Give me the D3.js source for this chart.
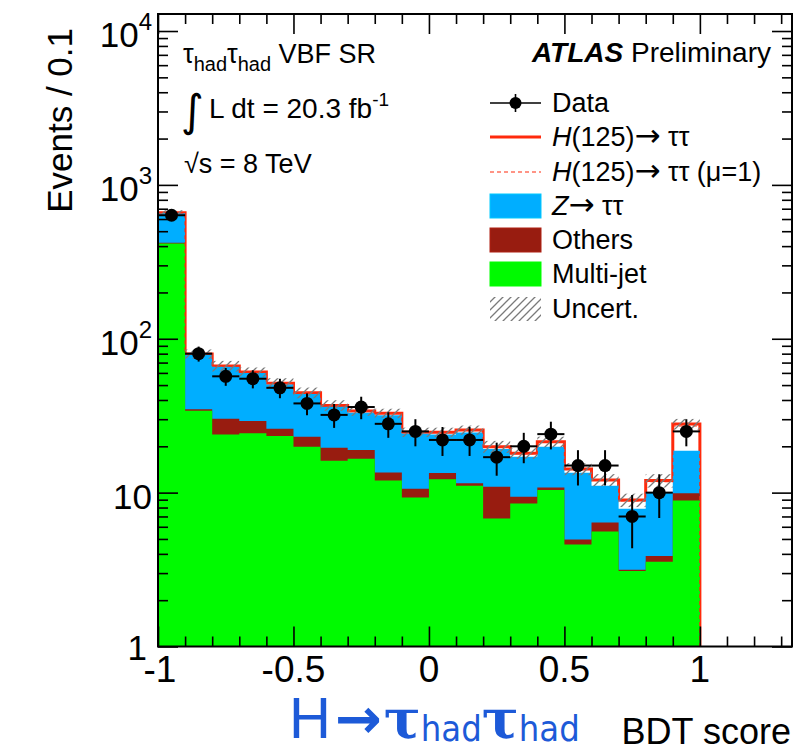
<!DOCTYPE html>
<html>
<head>
<meta charset="utf-8">
<script src="https://cdn.jsdelivr.net/npm/d3@7"></script>
<style>
  body { margin: 0; background: #ffffff; }
  svg { display: block; font-family: 'Liberation Sans', Arial, Helvetica, sans-serif; }
</style>
</head>
<body>
<svg id="chart" width="810" height="752"></svg>
<script>

// BDT score bins (lower edges), width 0.1
const bins = [-1.0, -0.9, -0.8, -0.7, -0.6, -0.5, -0.4, -0.3, -0.2, -0.1,
              0.0, 0.1, 0.2, 0.3, 0.4, 0.5, 0.6, 0.7, 0.8, 0.9];
const binWidth = 0.1;

// stacked backgrounds
const multijet = [416, 34, 23.9, 24.3, 23.3, 19.9, 16.1, 16.6, 12.0, 9.3,
                  12.2, 11.1, 6.8, 8.5, 10.4, 4.6, 5.6, 3.1, 3.55, 8.9];
const others   = [5, 0.8, 6.3, 4.9, 2.7, 3.2, 3.5, 2.3, 1.5, 1.3,
                  1.2, 0.4, 4.1, 0.9, 0.4, 0.35, 0.8, 0.05, 0.33, 1.0];
const ztautau  = [234, 44.0, 35.5, 30.8, 24.5, 20.7, 16.5, 14.1, 18.3, 13.5,
                  10.5, 13.1, 8.3, 7.7, 9.1, 8.5, 4.7, 4.7, 6.2, 8.8];
// signal (fitted) and signal at mu=1
const higgs    = [3, 0.8, 0.8, 0.8, 0.8, 0.8, 0.8, 0.9, 1.0, 0.6,
                  0.8, 0.9, 0.7, 0.9, 1.5, 0.8, 1.0, 1.1, 1.9, 9.2];
const higgsMu1 = [2.6, 0.7, 0.7, 0.7, 0.7, 0.7, 0.7, 0.8, 0.9, 0.5,
                  0.7, 0.8, 0.6, 0.8, 1.3, 0.7, 0.9, 1.0, 1.7, 8.4];
// relative uncertainty on the total
const uncert   = [0.04, 0.07, 0.08, 0.07, 0.08, 0.08, 0.08, 0.07, 0.07, 0.07,
                  0.07, 0.07, 0.09, 0.08, 0.08, 0.09, 0.09, 0.10, 0.10, 0.08];
const data     = [635, 80, 57, 55, 48, 38, 32, 36, 28, 25,
                  22, 22, 17, 20, 24, 15, 15, 7, 10, 25];

const xMajorTicks = [-1, -0.5, 0, 0.5, 1];
const xTickLabels = ['-1', '-0.5', '0', '0.5', '1'];
const yMajorTicks = [1, 10, 100, 1000, 10000];
const yTickExp    = ['', '', '2', '3', '4'];

const colors = {
  ztt: '#00aeff',
  others: '#981c10',
  multijet: '#00fa00',
  signal: '#ff2a0c',
  hatch: '#7a7a7a'
};

const plotLeft = 158, plotRight = 792, plotTop = 14, plotBottom = 646.5;
const yMin = 1, yMax = 12900;

const x = d3.scaleLinear().domain([-1, 1.34]).range([plotLeft, plotRight]);
const y = d3.scaleLog().domain([yMin, yMax]).range([plotBottom, plotTop]);

const svg = d3.select('#chart');
const defs = svg.append('defs');

defs.append('clipPath').attr('id', 'plotclip')
  .append('rect')
    .attr('x', plotLeft).attr('y', plotTop)
    .attr('width', plotRight - plotLeft).attr('height', plotBottom - plotTop);

const hatch = defs.append('pattern')
    .attr('id', 'hatch')
    .attr('patternUnits', 'userSpaceOnUse')
    .attr('width', 8).attr('height', 8);
hatch.append('path')
    .attr('d', 'M-2,2 l4,-4 M0,8 l8,-8 M6,10 l4,-4')
    .attr('stroke', colors.hatch)
    .attr('stroke-width', 1.3);

// cumulative stack
const sumOth = multijet.map((v, i) => v + others[i]);
const sumZ = sumOth.map((v, i) => v + ztautau[i]);
const sumH = sumZ.map((v, i) => v + higgs[i]);
const sumH1 = sumZ.map((v, i) => v + higgsMu1[i]);

const lastEdge = bins[bins.length - 1] + binWidth;

function stepPoints(values) {
  const pts = [[bins[0], yMin]];
  values.forEach((v, i) => pts.push([bins[i], v]));
  pts.push([lastEdge, values[values.length - 1]]);
  pts.push([lastEdge, yMin]);
  return pts;
}

const stepLine = d3.line()
    .x(d => x(d[0]))
    .y(d => y(d[1]))
    .curve(d3.curveStepAfter);

const stepArea = d3.area()
    .x(d => x(d[0]))
    .y0(y(yMin))
    .y1(d => y(d[1]))
    .curve(d3.curveStepAfter);

const plot = svg.append('g')
    .attr('class', 'plot')
    .attr('clip-path', 'url(#plotclip)');

// top of the stack (signal), drawn first like a ROOT stack
plot.append('path')
    .attr('class', 'signal-line')
    .attr('d', stepLine(stepPoints(sumH)))
    .attr('fill', '#ffffff')
    .attr('stroke', colors.signal)
    .attr('stroke-width', 3);

// background layers
[[sumZ, colors.ztt], [sumOth, colors.others], [multijet, colors.multijet]]
  .forEach(([vals, col]) => {
    plot.append('path')
        .attr('d', stepArea(stepPoints(vals)))
        .attr('fill', col)
        .attr('stroke', 'none');
  });

// signal mu=1, dashed
plot.append('path')
    .attr('class', 'signal-mu1')
    .attr('d', stepLine(stepPoints(sumH1)))
    .attr('fill', 'none')
    .attr('stroke', colors.signal)
    .attr('stroke-width', 1.2)
    .attr('stroke-dasharray', '4,3');

// uncertainty band
plot.append('g')
    .attr('class', 'uncert')
  .selectAll('rect')
  .data(bins)
  .enter().append('rect')
    .attr('x', d => x(d))
    .attr('width', d => x(d + binWidth) - x(d))
    .attr('y', (d, i) => y(sumH[i] * (1 + uncert[i])))
    .attr('height', (d, i) => y(sumH[i] * (1 - uncert[i])) - y(sumH[i] * (1 + uncert[i])))
    .attr('fill', 'url(#hatch)');

// data points
const pts = plot.append('g')
    .attr('class', 'data')
  .selectAll('g')
  .data(bins)
  .enter().append('g');
pts.append('line')
    .attr('x1', d => x(d))
    .attr('x2', d => x(d + binWidth))
    .attr('y1', (d, i) => y(data[i]))
    .attr('y2', (d, i) => y(data[i]))
    .attr('stroke', '#000').attr('stroke-width', 2);
pts.append('line')
    .attr('x1', d => x(d + binWidth / 2))
    .attr('x2', d => x(d + binWidth / 2))
    .attr('y1', (d, i) => y(data[i] + Math.sqrt(data[i])))
    .attr('y2', (d, i) => y(data[i] - Math.sqrt(data[i])))
    .attr('stroke', '#000').attr('stroke-width', 2);
pts.append('circle')
    .attr('cx', d => x(d + binWidth / 2))
    .attr('cy', (d, i) => y(data[i]))
    .attr('r', 6.5)
    .attr('fill', '#000');

// axes (ticks point inwards, ROOT style)
const xMinorTicks = d3.range(-0.9, 1.34, 0.1)
    .map(v => Math.round(v * 10) / 10)
    .filter(v => !xMajorTicks.includes(v));
const yMinorTicks = [];
yMajorTicks.slice(0, -1).forEach(dec => {
  for (let k = 2; k <= 9; k++) yMinorTicks.push(dec * k);
});

const axes = svg.append('g').attr('class', 'axes');

function tickAxis(axisFn, scale, values, size, transform) {
  const g = axes.append('g')
      .attr('transform', transform)
      .call(axisFn(scale).tickValues(values.filter(v => v <= scale.domain()[1])).tickSize(size).tickFormat(''));
  g.select('.domain').remove();
  g.selectAll('.tick line').attr('stroke', '#000').attr('stroke-width', 1.6);
  return g;
}

tickAxis(d3.axisBottom, x, xMajorTicks, -20, `translate(0,${plotBottom})`);
tickAxis(d3.axisBottom, x, xMinorTicks, -10, `translate(0,${plotBottom})`);
tickAxis(d3.axisTop, x, xMajorTicks, -20, `translate(0,${plotTop})`);
tickAxis(d3.axisTop, x, xMinorTicks, -10, `translate(0,${plotTop})`);
tickAxis(d3.axisLeft, y, yMajorTicks, -20, `translate(${plotLeft},0)`);
tickAxis(d3.axisLeft, y, yMinorTicks, -10, `translate(${plotLeft},0)`);
tickAxis(d3.axisRight, y, yMajorTicks, -20, `translate(${plotRight},0)`);
tickAxis(d3.axisRight, y, yMinorTicks, -10, `translate(${plotRight},0)`);

axes.append('rect')
    .attr('x', plotLeft).attr('y', plotTop)
    .attr('width', plotRight - plotLeft).attr('height', plotBottom - plotTop)
    .attr('fill', 'none')
    .attr('stroke', '#000')
    .attr('stroke-width', 2);

// tick labels
axes.append('g').selectAll('text')
  .data(xMajorTicks)
  .enter().append('text')
    .attr('x', d => x(d) + (d === -1 ? 2 : 0))
    .attr('y', 682)
    .attr('text-anchor', 'middle')
    .attr('font-size', 37)
    .text((d, i) => xTickLabels[i]);

const yLab = axes.append('g').selectAll('text')
  .data(yMajorTicks)
  .enter().append('text')
    .attr('x', d => d === 1 ? 147 : 152)
    .attr('y', d => y(d) + (d === 1 ? 13 : 16))
    .attr('text-anchor', 'end')
    .attr('font-size', 35);
yLab.append('tspan').text(d => d === 1 ? '1' : '10');
yLab.append('tspan')
    .attr('font-size', 24)
    .attr('dy', -17)
    .text((d, i) => yTickExp[i]);

// axis titles
svg.append('text')
    .attr('transform', 'translate(72,28) rotate(-90)')
    .attr('text-anchor', 'end')
    .attr('font-size', 35)
    .text('Events / 0.1');

svg.append('text')
    .attr('x', 791)
    .attr('y', 744)
    .attr('text-anchor', 'end')
    .attr('font-size', 36)
    .text('BDT score');

// blue channel label
const chan = svg.append('text')
    .attr('x', 289)
    .attr('y', 738)
    .attr('fill', '#1d5ad8');
chan.append('tspan').attr('font-size', 58).text('H');
chan.append('tspan').attr('font-size', 56).attr('font-family', 'DejaVu Sans')
    .attr('font-weight', 'bold').attr('dx', 4).text('→');
chan.append('tspan').attr('font-size', 55).attr('font-family', 'DejaVu Serif')
    .attr('font-weight', 'bold').attr('dx', 2).text('τ');
chan.append('tspan').attr('font-size', 36).attr('font-family', 'DejaVu Sans Condensed, DejaVu Sans')
    .attr('dy', 3).text('had');
chan.append('tspan').attr('font-size', 55).attr('font-family', 'DejaVu Serif')
    .attr('font-weight', 'bold').attr('dy', -3).text('τ');
chan.append('tspan').attr('font-size', 36).attr('font-family', 'DejaVu Sans Condensed, DejaVu Sans')
    .attr('dy', 3).text('had');

// info text
const info = svg.append('g').attr('font-size', 27);
const t1 = info.append('text').attr('x', 183).attr('y', 63);
t1.append('tspan').text('τ');
t1.append('tspan').attr('font-size', 20).attr('dy', 8).text('had');
t1.append('tspan').attr('dy', -8).text('τ');
t1.append('tspan').attr('font-size', 20).attr('dy', 8).text('had');
t1.append('tspan').attr('dy', -8).text(' VBF SR');

const t2 = info.append('text').attr('x', 181).attr('y', 118);
t2.append('tspan').attr('font-size', 44).attr('font-family', 'DejaVu Sans').attr('dy', 8).text('∫');
t2.append('tspan').attr('font-size', 28).attr('dy', -8).attr('dx', 5).text('L dt = 20.3 fb');
t2.append('tspan').attr('font-size', 19).attr('dy', -12).text('-1');

info.append('text').attr('x', 184).attr('y', 173).text('√s = 8 TeV');

const atlas = svg.append('text')
    .attr('x', 771)
    .attr('y', 62)
    .attr('text-anchor', 'end')
    .attr('font-size', 28);
atlas.append('tspan').attr('font-weight', 'bold').attr('font-style', 'italic').text('ATLAS');
atlas.append('tspan').text(' Preliminary');

// legend
const arrow = ['→', 'arrow'];
const legendRows = [
  {key: 'data', y: 103, label: [['Data', '']]},
  {key: 'sig', y: 137, label: [['H', 'italic'], ['(125)', ''], arrow, [' ττ', '']]},
  {key: 'sig1', y: 172, label: [['H', 'italic'], ['(125)', ''], arrow, [' ττ (μ=1)', '']]},
  {key: 'ztt', y: 206, label: [['Z', 'italic'], arrow, [' ττ', '']]},
  {key: 'others', y: 240, label: [['Others', '']]},
  {key: 'multijet', y: 274, label: [['Multi-jet', '']]},
  {key: 'unc', y: 309, label: [['Uncert.', '']]}
];
const legend = svg.append('g').attr('class', 'legend');
const lx0 = 490, lx1 = 541;
legendRows.forEach(r => {
  const g = legend.append('g');
  if (r.key === 'data') {
    g.append('line').attr('x1', lx0).attr('x2', lx1).attr('y1', r.y).attr('y2', r.y)
        .attr('stroke', '#000').attr('stroke-width', 1.6);
    g.append('line').attr('x1', (lx0 + lx1) / 2).attr('x2', (lx0 + lx1) / 2)
        .attr('y1', r.y - 9).attr('y2', r.y + 9)
        .attr('stroke', '#000').attr('stroke-width', 1.6);
    g.append('circle').attr('cx', (lx0 + lx1) / 2).attr('cy', r.y).attr('r', 6).attr('fill', '#000');
  } else if (r.key === 'sig' || r.key === 'sig1') {
    g.append('line').attr('x1', lx0).attr('x2', lx1).attr('y1', r.y).attr('y2', r.y)
        .attr('stroke', colors.signal)
        .attr('stroke-width', r.key === 'sig' ? 3 : 1.2)
        .attr('stroke-dasharray', r.key === 'sig' ? null : '4,3');
  } else if (r.key === 'unc') {
    g.append('rect').attr('x', lx0).attr('y', r.y - 12).attr('width', lx1 - lx0).attr('height', 24)
        .attr('fill', 'url(#hatch)');
  } else {
    g.append('rect').attr('x', lx0).attr('y', r.y - 12).attr('width', lx1 - lx0).attr('height', 24)
        .attr('fill', colors[r.key])
        .attr('stroke', d3.color(colors[r.key]).brighter(0.4))
        .attr('stroke-width', 1);
  }
  const t = g.append('text').attr('x', 552).attr('y', r.y + 9).attr('font-size', 27);
  r.label.forEach(([s, st]) => {
    const ts = t.append('tspan').text(s);
    if (st === 'italic') ts.attr('font-style', 'italic');
    if (st === 'arrow') ts.attr('font-family', 'DejaVu Sans').attr('font-size', 31);
  });
});

</script>
</body>
</html>
